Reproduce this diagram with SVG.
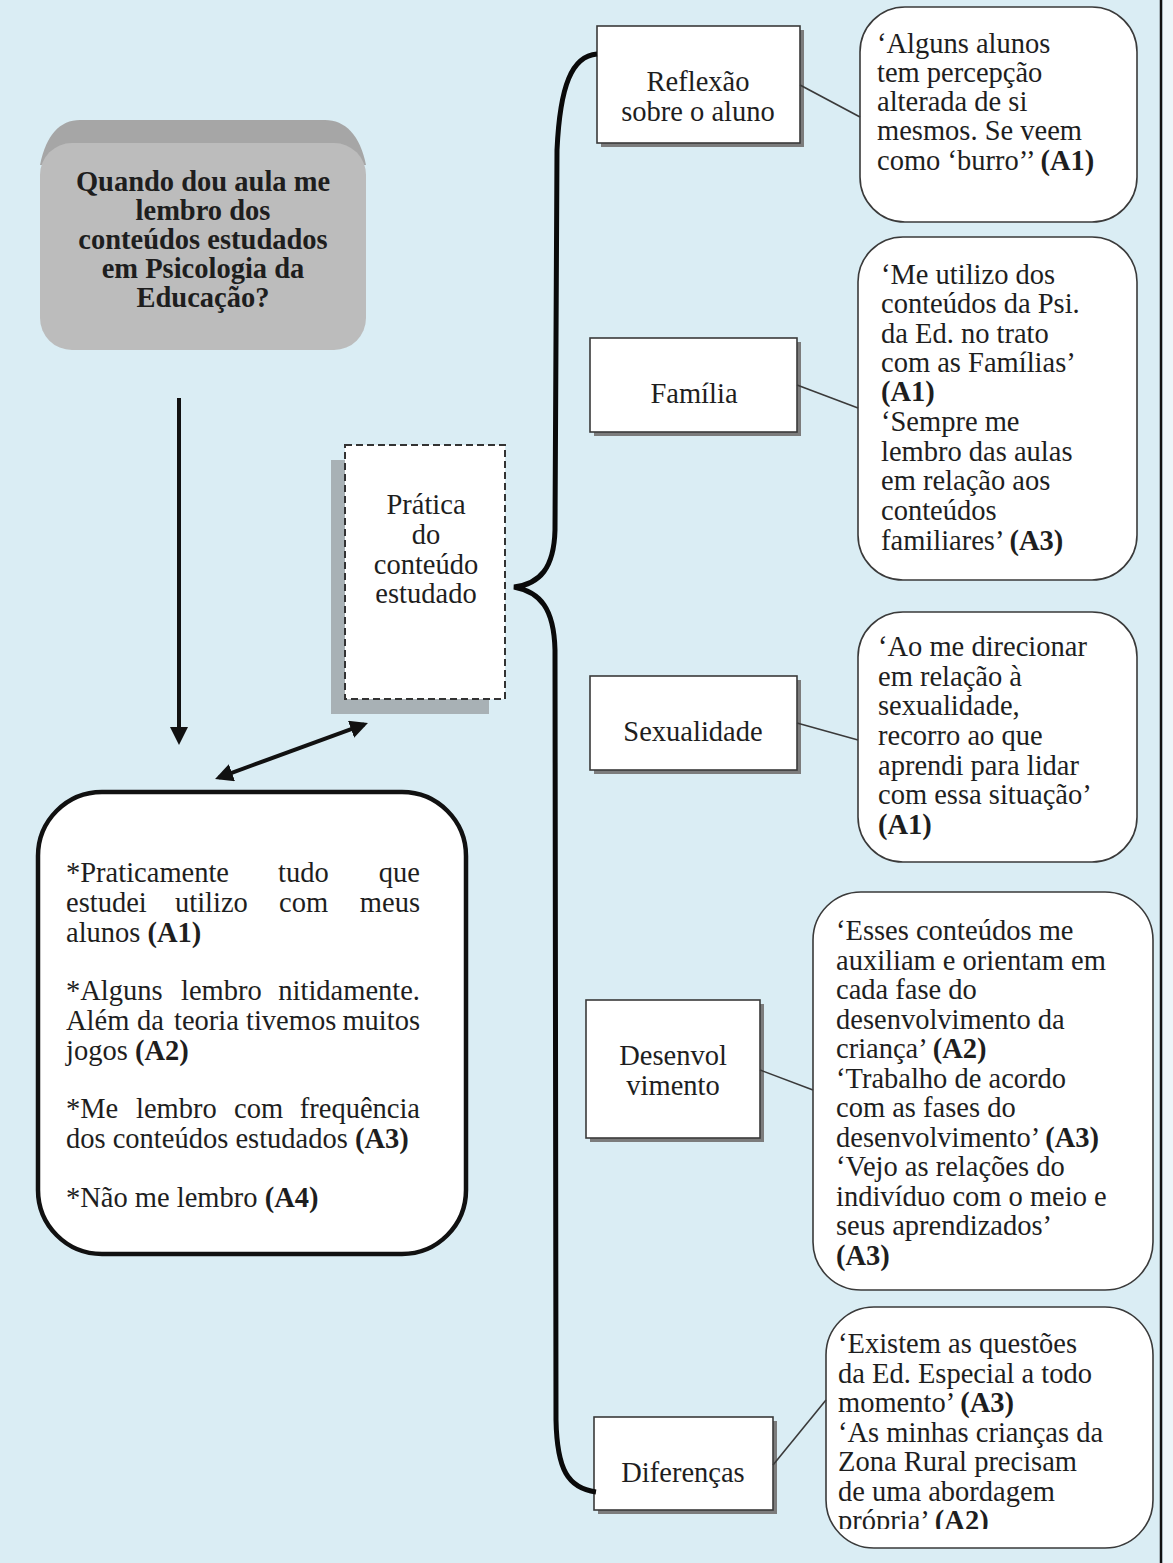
<svg xmlns="http://www.w3.org/2000/svg" width="1173" height="1563" viewBox="0 0 1173 1563">
<style>
  text { font-family: "Liberation Serif", "Times New Roman", serif; font-size: 28.5px; fill: #1e1e1e; }
  .b { font-weight: bold; }
  .c { text-anchor: middle; }
  .e { text-anchor: end; }
  .node { fill: #ffffff; stroke: #3a3a3a; stroke-width: 1.6; }
  .shadow { fill: #7c7c7c; }
  .callout { fill: #ffffff; stroke: #3a3a3a; stroke-width: 1.6; }
  .link { stroke: #3a3a3a; stroke-width: 1.6; fill: none; }
  .arrow { stroke: #111; stroke-width: 4; fill: none; }
</style>
<defs>
  <marker id="ah" viewBox="0 0 18 18" refX="14" refY="9" markerWidth="18" markerHeight="18" markerUnits="userSpaceOnUse" orient="auto-start-reverse">
    <path d="M0,0 L18,9 L0,18 Z" fill="#111"/>
  </marker>
  <clipPath id="clip5"><rect x="826" y="1307" width="327" height="222"/></clipPath>
</defs>

<rect x="0" y="0" width="1173" height="1563" fill="#daedf4"/>
<rect x="1163" y="0" width="10" height="1563" fill="#eef6f9"/>
<line x1="1161" y1="0" x2="1161" y2="1563" stroke="#111" stroke-width="2.5"/>

<g id="question">
  <path d="M80,120 H325 C345,120 360,135 366,165 L40,165 C46,135 60,120 80,120 Z" fill="#a6a6a6"/>
  <rect x="40" y="143" width="326" height="207" rx="32" fill="#bcbcbc"/>
  <text class="b c"><tspan x="203" y="191">Quando dou aula me</tspan><tspan x="203" y="220">lembro dos</tspan><tspan x="203" y="249">conteúdos estudados</tspan><tspan x="203" y="278">em Psicologia da</tspan><tspan x="203" y="307">Educação?</tspan></text>
</g>

<g id="pratica">
  <rect x="331" y="460" width="158" height="254" fill="#a8b1b5"/>
  <rect x="345" y="445" width="160" height="254" fill="#ffffff" stroke="#333" stroke-width="2" stroke-dasharray="7 4"/>
  <text class="c"><tspan x="426" y="514">Prática</tspan><tspan x="426" y="544">do</tspan><tspan x="426" y="574">conteúdo</tspan><tspan x="426" y="603">estudado</tspan></text>
</g>

<g id="respostas">
  <rect x="38" y="792" width="428" height="462" rx="64" fill="#ffffff" stroke="#111" stroke-width="4.5"/>
  <text><tspan x="66" y="882">*Praticamente</tspan><tspan x="278" y="882">tudo</tspan><tspan x="420" y="882" text-anchor="end">que</tspan></text>
  <text><tspan x="66" y="912">estudei</tspan><tspan x="175" y="912">utilizo</tspan><tspan x="279" y="912">com</tspan><tspan x="420" y="912" text-anchor="end">meus</tspan></text>
  <text x="66" y="942">alunos <tspan class="b">(A1)</tspan></text>
  <text><tspan x="66" y="1000">*Alguns</tspan><tspan x="181" y="1000">lembro</tspan><tspan x="420" y="1000" text-anchor="end">nitidamente.</tspan></text>
  <text><tspan x="66" y="1030">Além</tspan><tspan x="137" y="1030">da</tspan><tspan x="174" y="1030">teoria</tspan><tspan x="246" y="1030">tivemos</tspan><tspan x="420" y="1030" text-anchor="end">muitos</tspan></text>
  <text x="66" y="1060">jogos <tspan class="b">(A2)</tspan></text>
  <text><tspan x="66" y="1118">*Me</tspan><tspan x="136" y="1118">lembro</tspan><tspan x="234" y="1118">com</tspan><tspan x="420" y="1118" text-anchor="end">frequência</tspan></text>
  <text x="66" y="1148">dos conteúdos estudados <tspan class="b">(A3)</tspan></text>
  <text x="66" y="1207">*Não me lembro <tspan class="b">(A4)</tspan></text>
</g>

<g id="reflexao">
  <rect class="shadow" x="601" y="30" width="203" height="117"/>
  <rect class="node" x="597" y="26" width="203" height="117"/>
  <text class="c"><tspan x="698" y="91">Reflexão</tspan><tspan x="698" y="121">sobre o aluno</tspan></text>
</g>
<g id="familia">
  <rect class="shadow" x="594" y="342" width="207" height="94"/>
  <rect class="node" x="590" y="338" width="207" height="94"/>
  <text class="c" x="694" y="403">Família</text>
</g>
<g id="sexualidade">
  <rect class="shadow" x="594" y="680" width="207" height="94"/>
  <rect class="node" x="590" y="676" width="207" height="94"/>
  <text class="c" x="693" y="741">Sexualidade</text>
</g>
<g id="desenvolvimento">
  <rect class="shadow" x="590" y="1004" width="174" height="138"/>
  <rect class="node" x="586" y="1000" width="174" height="138"/>
  <text class="c"><tspan x="673" y="1065">Desenvol</tspan><tspan x="673" y="1095">vimento</tspan></text>
</g>
<g id="diferencas">
  <rect class="shadow" x="598" y="1421" width="179" height="93"/>
  <rect class="node" x="594" y="1417" width="179" height="93"/>
  <text class="c" x="683" y="1482">Diferenças</text>
</g>

<g id="c1">
  <rect class="callout" x="860" y="7" width="277" height="215" rx="45"/>
  <text><tspan x="877" y="53">‘Alguns alunos</tspan><tspan x="877" y="82">tem percepção</tspan><tspan x="877" y="111">alterada de si</tspan><tspan x="877" y="140">mesmos. Se veem</tspan><tspan x="877" y="170">como ‘burro’’ <tspan class="b">(A1)</tspan></tspan></text>
</g>
<g id="c2">
  <rect class="callout" x="858" y="237" width="279" height="343" rx="45"/>
  <text><tspan x="881" y="284">‘Me utilizo dos</tspan><tspan x="881" y="313">conteúdos da Psi.</tspan><tspan x="881" y="343">da Ed. no trato</tspan><tspan x="881" y="372">com as Famílias’</tspan><tspan x="881" y="401" class="b">(A1)</tspan><tspan x="881" y="431">‘Sempre me</tspan><tspan x="881" y="461">lembro das aulas</tspan><tspan x="881" y="490">em relação aos</tspan><tspan x="881" y="520">conteúdos</tspan><tspan x="881" y="550">familiares’ <tspan class="b">(A3)</tspan></tspan></text>
</g>
<g id="c3">
  <rect class="callout" x="858" y="612" width="279" height="250" rx="45"/>
  <text><tspan x="878" y="656">‘Ao me direcionar</tspan><tspan x="878" y="686">em relação à</tspan><tspan x="878" y="715">sexualidade,</tspan><tspan x="878" y="745">recorro ao que</tspan><tspan x="878" y="775">aprendi para lidar</tspan><tspan x="878" y="804">com essa situação’</tspan><tspan x="878" y="834" class="b">(A1)</tspan></text>
</g>
<g id="c4">
  <rect class="callout" x="813" y="892" width="340" height="398" rx="48"/>
  <text><tspan x="836" y="940">‘Esses conteúdos me</tspan><tspan x="836" y="970">auxiliam e orientam em</tspan><tspan x="836" y="999">cada fase do</tspan><tspan x="836" y="1029">desenvolvimento da</tspan><tspan x="836" y="1058">criança’ <tspan class="b">(A2)</tspan></tspan><tspan x="836" y="1088">‘Trabalho de acordo</tspan><tspan x="836" y="1117">com as fases do</tspan><tspan x="836" y="1147">desenvolvimento’ <tspan class="b">(A3)</tspan></tspan><tspan x="836" y="1176">‘Vejo as relações do</tspan><tspan x="836" y="1206">indivíduo com o meio e</tspan><tspan x="836" y="1235">seus aprendizados’</tspan><tspan x="836" y="1265" class="b">(A3)</tspan></text>
</g>
<g id="c5">
  <rect class="callout" x="826" y="1307" width="327" height="241" rx="48"/>
  <text clip-path="url(#clip5)"><tspan x="838" y="1353">‘Existem as questões</tspan><tspan x="838" y="1383">da Ed. Especial a todo</tspan><tspan x="838" y="1412">momento’ <tspan class="b">(A3)</tspan></tspan><tspan x="838" y="1442">‘As minhas crianças da</tspan><tspan x="838" y="1471">Zona Rural precisam</tspan><tspan x="838" y="1501">de uma abordagem</tspan><tspan x="838" y="1530">própria’ <tspan class="b">(A2)</tspan></tspan></text>
</g>

<g id="connectors">
  <path class="arrow" d="M179,398 L179,741" marker-end="url(#ah)"/>
  <path class="arrow" d="M218.8,777.6 L364.2,724.4" marker-start="url(#ah)" marker-end="url(#ah)"/>
  <path d="M597,54 C572,56 560,85 557,150 L555,530 C554,568 540,584 514,587 C540,592 554,608 555,650 L556,1420 C557,1470 568,1488 596,1492" fill="none" stroke="#0a0a0a" stroke-width="5"/>
  <line class="link" x1="800" y1="85" x2="860" y2="117"/>
  <line class="link" x1="797" y1="385" x2="858" y2="408"/>
  <line class="link" x1="797" y1="723" x2="858" y2="740"/>
  <line class="link" x1="760" y1="1070" x2="813" y2="1090"/>
  <line class="link" x1="773" y1="1465" x2="826" y2="1400"/>
</g>
</svg>
